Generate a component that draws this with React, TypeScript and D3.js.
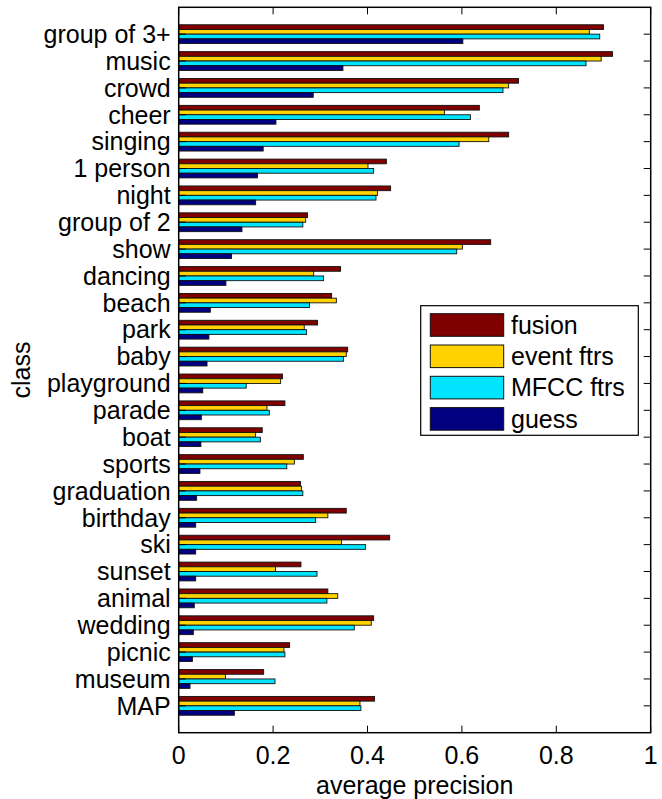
import React from 'react';
import * as d3 from 'd3';

const classes = [
  'group of 3+', 'music', 'crowd', 'cheer', 'singing', '1 person', 'night', 'group of 2',
  'show', 'dancing', 'beach', 'park', 'baby', 'playground', 'parade', 'boat', 'sports',
  'graduation', 'birthday', 'ski', 'sunset', 'animal', 'wedding', 'picnic', 'museum', 'MAP',
];

const fusion = [0.900, 0.919, 0.720, 0.637, 0.699, 0.440, 0.449, 0.273, 0.661, 0.343, 0.324, 0.294, 0.358,
  0.220, 0.225, 0.177, 0.264, 0.258, 0.355, 0.447, 0.259, 0.316, 0.413, 0.235, 0.180, 0.415];
const eventFtrs = [0.870, 0.895, 0.699, 0.563, 0.657, 0.401, 0.421, 0.269, 0.601, 0.286, 0.334, 0.266, 0.355,
  0.216, 0.187, 0.163, 0.245, 0.260, 0.316, 0.345, 0.205, 0.337, 0.408, 0.223, 0.099, 0.384];
const mfccFtrs = [0.892, 0.863, 0.687, 0.618, 0.594, 0.413, 0.418, 0.263, 0.589, 0.307, 0.277, 0.271, 0.349,
  0.143, 0.192, 0.173, 0.229, 0.263, 0.290, 0.396, 0.293, 0.314, 0.372, 0.225, 0.204, 0.386];
const guess = [0.602, 0.348, 0.285, 0.206, 0.179, 0.167, 0.163, 0.134, 0.112, 0.100, 0.067, 0.064, 0.060,
  0.051, 0.048, 0.047, 0.045, 0.038, 0.036, 0.036, 0.036, 0.033, 0.031, 0.029, 0.024, 0.118];

const seriesNames = ['fusion', 'event ftrs', 'MFCC ftrs', 'guess'];
const seriesColors = ['#800000', '#FFD200', '#00E4FF', '#000080'];
const xTicks = [0, 0.2, 0.4, 0.6, 0.8, 1];

const W = 662;
const H = 799;
const left = 178.7, right = 650.7, top = 7.3, bottom = 732.7;
const font = '"Liberation Sans", Arial, Helvetica, sans-serif';

const App = () => {
  const series = [fusion, eventFtrs, mfccFtrs, guess];
  const x = d3.scaleLinear().domain([0, 1]).range([left, right]);
  const y = d3.scaleLinear().domain([0, classes.length + 1]).range([top, bottom]);
  const barH = 0.175;
  const groupH = barH * series.length;

  const tickLen = 7;

  return (
    <div style={{ position: 'absolute', left: 0, top: 0 }}>
      <svg width={W} height={H} style={{ display: 'block', background: '#fff' }} fontFamily={font}>
        {/* bars */}
        {classes.map((c, i) => (
          <g key={c}>
            {series.map((s, k) => {
              const y0 = y(i + 1 - groupH / 2 + k * barH);
              const y1 = y(i + 1 - groupH / 2 + (k + 1) * barH);
              return (
                <rect key={k} x={x(0)} y={y0} width={x(s[i]) - x(0)} height={y1 - y0}
                  fill={seriesColors[k]} stroke="#111" strokeWidth={0.9} />
              );
            })}
          </g>
        ))}

        {/* y ticks + labels */}
        {classes.map((c, i) => (
          <g key={'t' + c}>
            <line x1={left} x2={left + tickLen} y1={y(i + 1)} y2={y(i + 1)} stroke="#000" strokeWidth={1} />
            <line x1={right} x2={right - tickLen} y1={y(i + 1)} y2={y(i + 1)} stroke="#000" strokeWidth={1} />
            <text x={left - 8} y={y(i + 1)} dy="0.35em" textAnchor="end" fontSize={25} fill="#000">{c}</text>
          </g>
        ))}

        {/* x ticks + labels */}
        {xTicks.map((t) => (
          <g key={'x' + t}>
            <line x1={x(t)} x2={x(t)} y1={bottom} y2={bottom - tickLen} stroke="#000" strokeWidth={1} />
            <line x1={x(t)} x2={x(t)} y1={top} y2={top + tickLen} stroke="#000" strokeWidth={1} />
            <text x={x(t)} y={bottom + 31} textAnchor="middle" fontSize={25} fill="#000">{t}</text>
          </g>
        ))}

        {/* axes box */}
        <rect x={left} y={top} width={right - left} height={bottom - top} fill="none" stroke="#000" strokeWidth={1.5} />

        <text x={(left + right) / 2} y={bottom + 61} textAnchor="middle" fontSize={25} fill="#000">average precision</text>
        <text transform={`translate(30,${(top + bottom) / 2}) rotate(-90)`} textAnchor="middle" fontSize={25} fill="#000">class</text>

        {/* legend */}
        <g>
          <rect x={420.7} y={305.7} width={217.6} height={129.6} fill="#fff" stroke="#000" strokeWidth={1.2} />
          {seriesNames.map((n, k) => {
            const cy = 325 + k * 31.3;
            return (
              <g key={n}>
                <rect x={430.3} y={cy - 11.3} width={73.4} height={22.6} fill={seriesColors[k]} stroke="#111" strokeWidth={1} />
                <text x={511} y={cy} dy="0.35em" fontSize={25} fill="#000">{n}</text>
              </g>
            );
          })}
        </g>
      </svg>
    </div>
  );
};

export default App;
